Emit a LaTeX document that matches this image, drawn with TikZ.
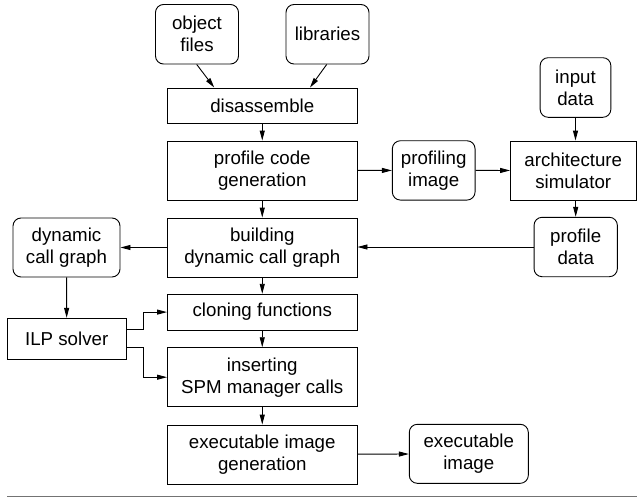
\documentclass[tikz,border=0pt]{standalone}
\usepackage{fontspec}
\setmainfont{Liberation Sans}
\usetikzlibrary{arrows.meta}
\begin{document}
\begin{tikzpicture}[x=1pt,y=-1pt,
  base/.style={draw,line width=0.9pt,inner sep=0pt,align=center,
    font=\fontsize{18.7}{22}\selectfont},
  proc/.style={base},
  data/.style={base,rounded corners=8pt},
  arr/.style={line width=0.9pt,-{Triangle[length=10pt,width=5pt]}},
  ln/.style={line width=0.9pt}]
\useasboundingbox (0,0) rectangle (637,498);
% data nodes
\node[data,minimum width=83pt,minimum height=59.5pt] (obj) at (197,34.25) {object\\files};
\node[data,minimum width=83pt,minimum height=59.5pt] (lib) at (327.5,34.25) {libraries};
\node[data,minimum width=70.7pt,minimum height=59.6pt] (inp) at (575.5,87.5) {input\\data};
\node[data,minimum width=82.7pt,minimum height=59.3pt] (pi) at (433.7,170.4) {profiling\\image};
\node[data,minimum width=83.3pt,minimum height=59.4pt] (pd) at (575.7,247) {profile\\data};
\node[data,minimum width=107pt,minimum height=59pt] (dcg) at (66.5,247.5) {dynamic\\call graph};
\node[data,minimum width=119pt,minimum height=59pt] (ei) at (468.8,453.8) {executable\\image};
% process nodes
\node[proc,minimum width=189.5pt,minimum height=35pt] (dis) at (262.25,105.5) {disassemble};
\node[proc,minimum width=189.5pt,minimum height=59pt] (pcg) at (262.25,170.5) {profile code\\generation};
\node[proc,minimum width=125.5pt,minimum height=59pt] (as) at (573.25,170.5) {architecture\\simulator};
\node[proc,minimum width=189.5pt,minimum height=59pt] (bdcg) at (262.25,247.5) {building\\dynamic call graph};
\node[proc,minimum width=189.5pt,minimum height=35.7pt] (clone) at (262.25,312.1) {cloning functions};
\node[proc,minimum width=118.7pt,minimum height=41pt] (ilp) at (66.7,338.8) {ILP solver};
\node[proc,minimum width=189.5pt,minimum height=59pt] (ins) at (262.25,377.2) {inserting\\SPM manager calls};
\node[proc,minimum width=189.5pt,minimum height=59pt] (eig) at (262.25,454.5) {executable image\\generation};
% connectors
\draw[arr] ([xshift=-0.3pt]obj.south) -- ([xshift=-48pt]dis.north);
\draw[arr] ([xshift=-0.8pt]lib.south) -- ([xshift=47.75pt]dis.north);
\draw[arr] (dis) -- (pcg);
\draw[arr] (pcg) -- (bdcg);
\draw[arr] (pcg) -- (pi);
\draw[arr] (pi) -- (as);
\draw[arr] (inp.south) -- (inp.south |- as.north);
\draw[arr] (pd.north |- as.south) -- (pd.north);
\draw[arr] (pd.west) -- (bdcg.east |- pd.west);
\draw[arr] (bdcg) -- (dcg);
\draw[arr] (dcg) -- (ilp);
\draw[arr] (bdcg) -- (clone);
\draw[arr] (clone) -- (ins);
\draw[arr] (ins) -- (eig);
\draw[arr] (eig) -- (ei);
\draw[arr] ([yshift=9pt]ilp.east) -- ++(17.3,0) |- (clone.west);
\draw[arr] ([yshift=-9pt]ilp.east) -- ++(17.3,0) |- (ins.west);
% bottom rule
\draw[line width=1.5pt,black!55] (7,496.5) -- (637,496.5);
\end{tikzpicture}
\end{document}
